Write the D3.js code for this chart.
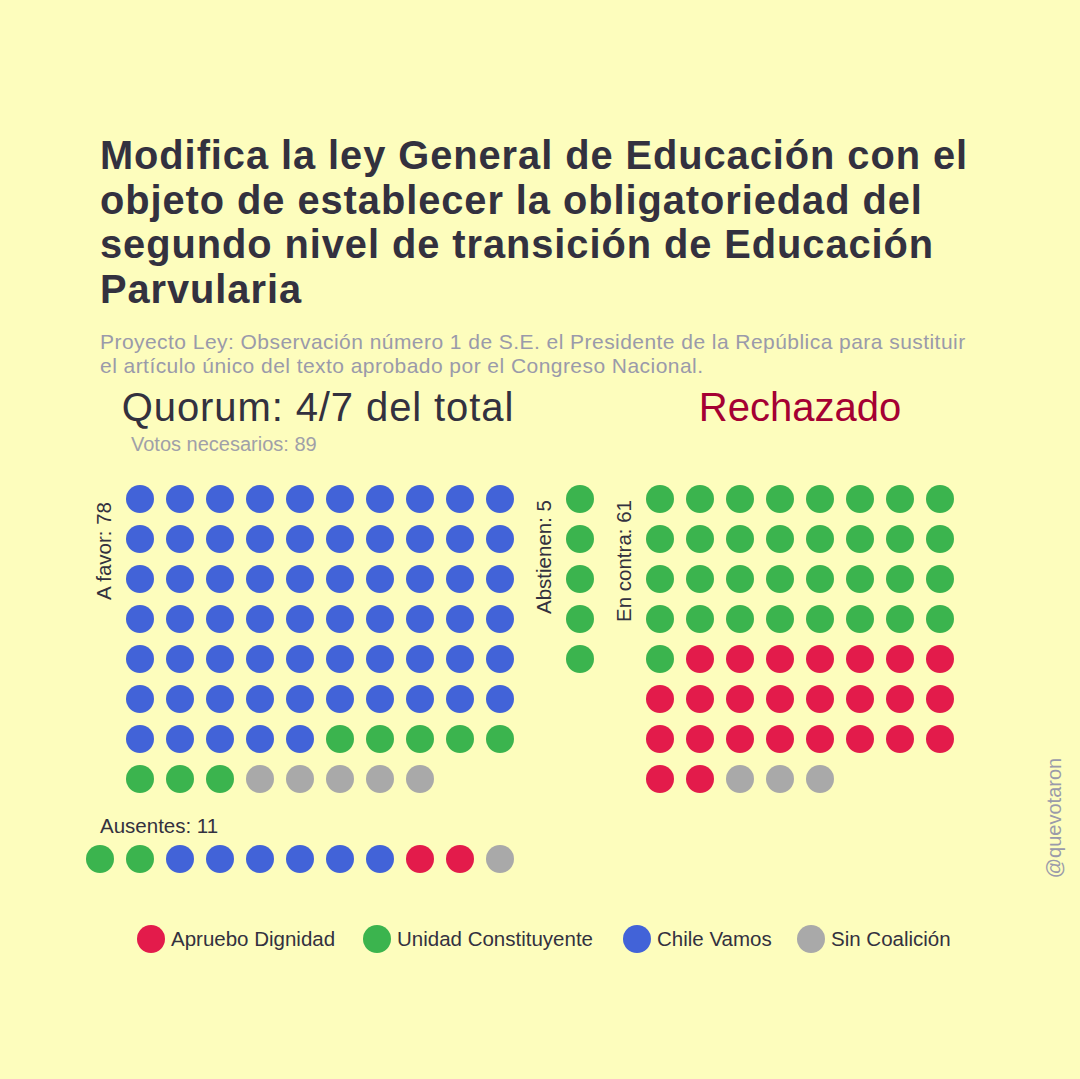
<!DOCTYPE html>
<html>
<head>
<meta charset="utf-8">
<script src="https://cdn.jsdelivr.net/npm/d3@7"></script>
<style>
  html, body { margin: 0; padding: 0; background: #fdfdbd; }
  svg text { font-family: "Liberation Sans", Arial, sans-serif; }
</style>
</head>
<body>
<div id="chart"></div>
<script>
// DATA ------------------------------
const titleLines = [
  'Modifica la ley General de Educación con el',
  'objeto de establecer la obligatoriedad del',
  'segundo nivel de transición de Educación',
  'Parvularia'
];
const subtitleLines = [
  'Proyecto Ley: Observación número 1 de S.E. el Presidente de la República para sustituir',
  'el artículo único del texto aprobado por el Congreso Nacional.'
];
const coalitions = ['Apruebo Dignidad', 'Unidad Constituyente', 'Chile Vamos', 'Sin Coalición'];
const coalitionColors = ['#e31b4b', '#3bb44e', '#4263d8', '#a9a9a9'];

// votes per coalition, in the order they are stacked
const aFavor = [['Chile Vamos', 65], ['Unidad Constituyente', 8], ['Sin Coalición', 5]];
const abstienen = [['Unidad Constituyente', 5]];
const enContra = [['Unidad Constituyente', 33], ['Apruebo Dignidad', 25], ['Sin Coalición', 3]];
const ausentes = [['Unidad Constituyente', 2], ['Chile Vamos', 6], ['Apruebo Dignidad', 2], ['Sin Coalición', 1]];

const quorumText = 'Quorum: 4/7 del total';
const votosNecesarios = 89;
const resultado = 'Rechazado';

// CHART -----------------------------
const width = 1080, height = 1079;
const dark = '#33313f', grey = '#9a9aaa';
const color = d3.scaleOrdinal().domain(coalitions).range(coalitionColors);

const svg = d3.select('#chart').append('svg')
  .attr('width', width).attr('height', height);
svg.append('rect').attr('width', width).attr('height', height).attr('fill', '#fdfdbd');

// title + subtitle (one text each, lines as tspans)
svg.append('text').attr('y', 169)
  .attr('font-size', 39.8).attr('font-weight', 700).attr('fill', dark)
  .attr('letter-spacing', 0.95)
  .selectAll('tspan').data(titleLines).join('tspan')
  .attr('x', 100).attr('dy', (d, i) => i ? 44.5 : 0)
  .text(d => d);
svg.append('text').attr('y', 349)
  .attr('font-size', 21).attr('fill', grey).attr('letter-spacing', 0.45)
  .selectAll('tspan').data(subtitleLines).join('tspan')
  .attr('x', 100).attr('dy', (d, i) => i ? 23.5 : 0)
  .text(d => d);

svg.append('text').attr('x', 318).attr('y', 421).attr('text-anchor', 'middle')
  .attr('font-size', 40).attr('letter-spacing', 0.9).attr('fill', dark).text(quorumText);
svg.append('text').attr('x', 131).attr('y', 451)
  .attr('font-size', 20).attr('fill', '#a0a0a8')
  .text('Votos necesarios: ' + votosNecesarios);
svg.append('text').attr('x', 800).attr('y', 421).attr('text-anchor', 'middle')
  .attr('font-size', 40).attr('fill', '#a50033').text(resultado);

// expand [coalition, n] pairs into one entry per seat
const expand = groups => groups.flatMap(([c, n]) => d3.range(n).map(() => c));
const total = groups => d3.sum(groups, d => d[1]);

const step = 40, r = 14;
function block(groups, cols, x0, y0) {
  const seats = expand(groups);
  const x = d3.scaleLinear().domain([0, 1]).range([x0, x0 + step]);
  const y = d3.scaleLinear().domain([0, 1]).range([y0, y0 + step]);
  svg.append('g').selectAll('circle').data(seats).join('circle')
    .attr('cx', (d, i) => x(i % cols))
    .attr('cy', (d, i) => y(Math.floor(i / cols)))
    .attr('r', r)
    .attr('fill', d => color(d));
}
function vlabel(txt, x, y) {
  svg.append('text').attr('transform', `translate(${x},${y}) rotate(-90)`)
    .attr('text-anchor', 'end').attr('font-size', 20.5).attr('fill', dark).text(txt);
}

block(aFavor, 10, 140, 499);
vlabel('A favor: ' + total(aFavor), 111, 502);
block(abstienen, 1, 580, 499);
vlabel('Abstienen: ' + total(abstienen), 551, 500);
block(enContra, 8, 660, 499);
vlabel('En contra: ' + total(enContra), 631, 500);

svg.append('text').attr('x', 100).attr('y', 833)
  .attr('font-size', 20.5).attr('fill', dark)
  .text('Ausentes: ' + total(ausentes));
block(ausentes, 11, 100, 859);

// legend
const legendX = [151, 377, 637, 811];
const legend = svg.append('g').selectAll('g').data(coalitions).join('g')
  .attr('transform', (d, i) => `translate(${legendX[i]},939)`);
legend.append('circle').attr('r', 14).attr('fill', d => color(d));
legend.append('text').attr('x', 20).attr('dy', '0.35em')
  .attr('font-size', 20.5).attr('fill', dark).text(d => d);

svg.append('text').attr('transform', 'translate(1061,818) rotate(-90)')
  .attr('text-anchor', 'middle').attr('font-size', 20).attr('fill', grey)
  .text('@quevotaron');
</script>
</body>
</html>
